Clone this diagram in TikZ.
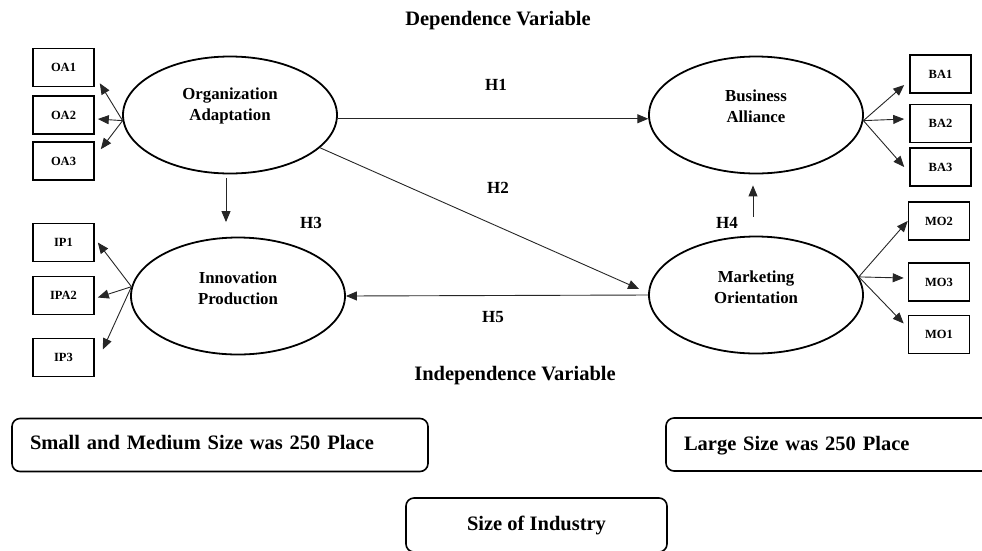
\documentclass[tikz,border=0pt]{standalone}
\usepackage{fontspec}
\setmainfont{Liberation Serif}
\usetikzlibrary{arrows.meta,shapes.geometric}
\begin{document}
\begin{tikzpicture}[x=1pt,y=-1pt,
  latent/.style={draw,line width=1.8pt,ellipse,minimum width=214pt,minimum height=117pt,inner sep=0pt},
  ind/.style={draw,line width=1.6pt,minimum width=61pt,minimum height=38pt,inner sep=0pt,font=\fontsize{12.5}{14}\selectfont\bfseries},
  vartext/.style={align=center,font=\fontsize{16.8}{21}\selectfont\bfseries},
  hyp/.style={font=\fontsize{17}{20}\selectfont\bfseries},
  title/.style={font=\fontsize{20.5}{24}\selectfont\bfseries},
  group/.style={draw,line width=1.6pt,rounded corners=8pt,minimum height=53pt,font=\fontsize{20.5}{24}\selectfont\bfseries},
  link/.style={-{Triangle[length=11pt,width=9pt]},line width=0.9pt,draw=black!85}]
\useasboundingbox (0,0) rectangle (982,550);

\node[title] (dep) at (498,21) {Dependence Variable};
\node[title] (indep) at (515,376) {Independence Variable};

\node[latent] (oa) at (230,115) {};
\node[vartext] (oa-t) at (230,106) {Organization\\Adaptation};
\node[latent] (ip) at (238,296) {};
\node[vartext] (ip-t) at (238,288) {Innovation\\Production};
\node[latent] (ba) at (756,115) {};
\node[vartext] (ba-t) at (756,106) {Business\\Alliance};
\node[latent] (mo) at (756,295) {};
\node[vartext] (mo-t) at (756,287) {Marketing\\Orientation};

\node[ind] (oa1) at (63.5,67.5) {OA1};
\node[ind] (oa2) at (63.5,115) {OA2};
\node[ind] (oa3) at (63.5,161) {OA3};
\node[ind] (ip1) at (63.5,242.5) {IP1};
\node[ind] (ip2) at (63.5,295.5) {IPA2};
\node[ind] (ip3) at (63.5,357.5) {IP3};
\node[ind] (ba1) at (940.5,74) {BA1};
\node[ind] (ba2) at (940.5,123.5) {BA2};
\node[ind] (ba3) at (940.5,167) {BA3};
\node[ind] (mo2) at (939,221) {MO2};
\node[ind] (mo3) at (939,282) {MO3};
\node[ind] (mo1) at (939,334.5) {MO1};

\draw[link] (oa.183) -- ([xshift=5pt,yshift=4pt]oa1.south east);
\draw[link] (oa.183) -- ([xshift=3pt,yshift=-4pt]oa2.east);
\draw[link] (oa.183) -- ([xshift=6pt,yshift=-8pt]oa3.north east);

\draw[link] (ip.175) -- ([xshift=3pt]ip1.east);
\draw[link] (ip.175) -- ([xshift=3pt,yshift=-2pt]ip2.east);
\draw[link] (ip.175) -- ([xshift=8pt,yshift=8pt]ip3.east);

\draw[link] (ba.-3) -- ([xshift=-5pt,yshift=-11pt]ba1.west);
\draw[link] (ba.-3) -- ([xshift=-5pt,yshift=4.5pt]ba2.west);
\draw[link] (ba.-3) -- ([xshift=-5pt]ba3.west);

\draw[link] (mo.10) -- (mo2.west);
\draw[link] (mo.10) -- ([xshift=-4pt,yshift=4pt]mo3.west);
\draw[link] (mo.10) -- ([xshift=-4pt,yshift=11pt]mo1.west);

\draw[link] (oa.-2) -- (ba.182);
\draw[link] (oa.-20) -- ([xshift=-9pt,yshift=6pt]mo.west);
\draw[link] (mo.west) -- (ip.east);
\draw[link] ([xshift=-4pt,yshift=-4pt]oa.south) -- ([xshift=-12pt,yshift=14.5pt]ip.north);
\draw[link] ([xshift=-3pt,yshift=19pt]mo.north) -- ([xshift=-3pt,yshift=-11pt]ba.south);

\node[hyp] (h1) at (496,85) {H1};
\node[hyp] (h2) at (498,188) {H2};
\node[hyp] (h3) at (311,223) {H3};
\node[hyp] (h4) at (727,223) {H4};
\node[hyp] (h5) at (493,317) {H5};

\node[group,text width=380pt,align=left,inner xsep=18pt,text depth=6pt] (smes) at (220,445) {Small and Medium Size was 250 Place};
\node[group,text width=320pt,align=left,inner xsep=18pt,text depth=2pt] (large) at (844,444.5) {Large Size was 250 Place};
\node[group,minimum width=261pt,minimum height=54pt] (size) at (536.5,525) {Size of Industry};
\end{tikzpicture}
\end{document}
